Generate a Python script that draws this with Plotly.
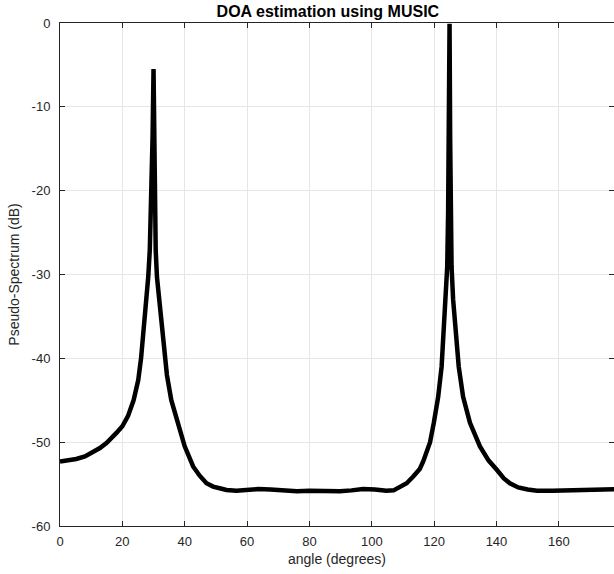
import plotly.graph_objects as go

# Values (angle in degrees, pseudo-spectrum in dB)
angle_deg = [0, 2.5, 5.2, 8.0, 10.6, 12.8, 14.9, 16.6, 18.1, 20.0, 21.8, 23.6, 25.1,
             26.0, 26.8, 27.7, 28.3, 28.8,
             29.3, 29.7, 30.0, 30.2, 30.4, 30.7, 31.1, 32.0, 32.9, 33.6, 34.3, 35.7,
             37.9, 40.0, 42.7, 44.8, 47.0, 49.1, 51.2, 53.4, 56.6, 60.0, 63.5, 67.5,
             71.6, 76.0, 80.0, 85.0, 89.8, 93.5, 97.2, 101.0, 104.7, 107.0, 109.0,
             111.2, 113.3, 115.4, 116.5, 118.7, 119.9, 121.3, 122.4, 123.1, 123.8,
             124.2, 124.5, 124.75, 124.95, 125.15, 125.35, 125.6, 126.1, 127.0, 127.9,
             129.3, 131.5, 134.7, 137.5, 140.1, 142.3, 144.3, 147.0, 150.0, 153.0,
             158.0, 163.6, 168.0, 172.0, 176.0, 180.0]
spectrum_db = [-52.3, -52.2, -52.0, -51.7, -51.2, -50.7, -50.1, -49.5, -48.9, -48.1,
               -46.9, -45.0, -42.6, -40.0, -37.0, -33.4, -30.3, -27.1,
               -21.0, -13.5, -5.5, -13.0, -21.5, -27.1, -30.3, -33.4, -37.0, -40.0,
               -42.0, -45.0, -47.7, -50.5, -52.9, -54.0, -54.9, -55.3, -55.5, -55.7,
               -55.8, -55.7, -55.6, -55.65, -55.8, -55.85, -55.8, -55.85, -55.85,
               -55.75, -55.6, -55.65, -55.8, -55.75, -55.4, -54.9, -54.1, -53.2,
               -52.3, -50.0, -47.7, -44.6, -41.0, -37.0, -33.0, -29.1,
               -22.5, -14.0, -0.1, -14.0, -22.5, -29.1, -33.0, -37.0, -41.0, -44.6,
               -47.7, -50.5, -52.2, -53.3, -54.3, -54.9, -55.4, -55.65, -55.8, -55.8,
               -55.75, -55.7, -55.65, -55.6, -55.6]

x_ticks = [0, 20, 40, 60, 80, 100, 120, 140, 160, 180]
y_ticks = [0, -10, -20, -30, -40, -50, -60]

FONT = "Liberation Sans, Arial, Helvetica, sans-serif"

fig = go.Figure()
fig.add_trace(go.Scatter(x=angle_deg, y=spectrum_db, mode="lines",
                         line=dict(color="black", width=4.5), showlegend=False))

axis_common = dict(
    showline=True, linecolor="#262626", linewidth=1,
    ticks="inside", ticklen=5, tickcolor="#262626", tickwidth=1,
    showgrid=True, gridcolor="#e6e6e6", gridwidth=1,
    zeroline=False, mirror="ticks", automargin=False,
    tickfont=dict(family=FONT, size=13, color="#262626"),
)

fig.update_layout(
    width=614, height=574,
    margin=dict(l=60, r=0, t=23, b=48),
    paper_bgcolor="white", plot_bgcolor="white",
    title=dict(text="<b>DOA estimation using MUSIC</b>", x=0.534, xref="container",
               xanchor="center", y=0.981, yref="container", yanchor="middle",
               font=dict(family=FONT, size=16, color="black")),
    xaxis=dict(range=[0, 177.7], tickvals=x_ticks, ticktext=[str(v) for v in x_ticks],
               ticklabelstandoff=3,
               title=dict(text="angle (degrees)", standoff=6,
                          font=dict(family=FONT, size=14, color="#262626")),
               **axis_common),
    yaxis=dict(range=[-60, 0], tickvals=y_ticks, ticktext=[str(v) for v in y_ticks],
               ticklabelstandoff=6,
               title=dict(text="Pseudo-Spectrum (dB)", standoff=8,
                          font=dict(family=FONT, size=14, color="#262626")),
               **axis_common),
)

fig.write_html("out.html",
               config={"displayModeBar": False},
               post_script="document.body.style.margin='0';document.body.style.overflow='hidden';")
